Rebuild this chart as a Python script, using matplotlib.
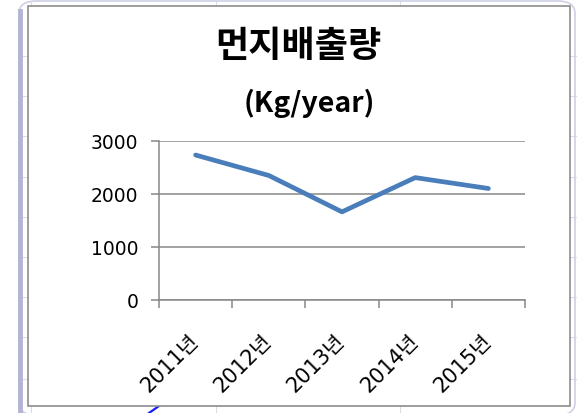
import matplotlib
matplotlib.use('Agg')
import matplotlib.pyplot as plt
from matplotlib.lines import Line2D
from matplotlib.patches import Rectangle, FancyBboxPatch

# Data
years = ['2011년', '2012년', '2013년', '2014년', '2015년']
dust = [2730, 2345, 1660, 2305, 2100]
y_ticks = [0, 1000, 2000, 3000]

title = '먼지배출량'
subtitle = '(Kg/year)'

W, H = 578, 414
plt.rcParams['font.family'] = ['DejaVu Sans', 'Noto Sans CJK KR']

fig = plt.figure(figsize=(W / 100, H / 100), dpi=100)
fig.patch.set_facecolor('white')


def px(x, y):
    return x / W, 1 - y / H


def seg(x0, y0, x1, y1, **kw):
    (a, b), (c, d) = px(x0, y0), px(x1, y1)
    fig.add_artist(Line2D([a, c], [b, d], zorder=-2, **kw))


# spreadsheet background around the chart
grid_c = '#dcdce6'
for yy in [57, 97, 137, 178, 218, 258, 298, 338, 380]:
    seg(22, yy, 28, yy, color=grid_c, lw=0.8)
    seg(570, yy, 576, yy, color=grid_c, lw=0.8)
for xx in [31, 216, 400]:
    seg(xx, 2, xx, 7, color=grid_c, lw=0.8)
    seg(xx, 407, xx, 414, color=grid_c, lw=0.8)
fig.add_artist(FancyBboxPatch(px(19, 416), (575 - 19) / W, (416 - 2) / H,
                              boxstyle='round,pad=0,rounding_size=0.03',
                              transform=fig.transFigure, fill=False,
                              edgecolor='#d0d0e6', lw=1.2, zorder=-2))
seg(19.5, 12, 19.5, 414, color='#b4b4d4', lw=3.5)
fig.add_artist(Rectangle(px(28, 407), (570 - 28) / W, (407 - 7) / H,
                         transform=fig.transFigure, facecolor='white',
                         edgecolor='#8c8c8c', lw=1.2, zorder=-1))
seg(149, 414, 159, 407, color='#1a1aff', lw=1.6)

# plot area
left, top, right, bottom = 159, 141.7, 525, 301
ax = fig.add_axes([left / W, 1 - bottom / H, (right - left) / W, (bottom - top) / H])
ax.patch.set_alpha(0)
x = list(range(len(years)))
ax.plot(x, dust, color='#4a7ebb', lw=3.4, solid_capstyle='round', solid_joinstyle='round')

ax.set_xlim(-0.5, len(years) - 0.5)
ax.set_ylim(0, 3000)
ax.set_yticks(y_ticks)
ax.set_yticklabels([str(v) for v in y_ticks], fontsize=13.5)
ax.yaxis.grid(True, color='#878787', lw=1.1)
ax.set_axisbelow(True)

ax.set_xticks([i - 0.5 for i in range(len(years) + 1)])
ax.set_xticklabels([])
ax.set_xticks(x, minor=True)
ax.set_xticklabels(years, minor=True, rotation=45, ha='right', va='center',
                   rotation_mode='anchor', fontsize=15)
ax.tick_params(axis='x', which='minor', length=0, pad=27)
ax.tick_params(axis='x', which='major', length=6, width=1.1, color='#878787')
ax.tick_params(axis='y', length=6, width=1.1, color='#878787', pad=9)

for s in ['top', 'right']:
    ax.spines[s].set_visible(False)
for s in ['left', 'bottom']:
    ax.spines[s].set_color('#878787')
    ax.spines[s].set_linewidth(1.1)

fig.text(*px(298, 47), title, ha='center', va='center', fontsize=26,
         fontweight='bold', family=['Noto Sans CJK KR'])
fig.text(*px(309, 103), subtitle, ha='center', va='center', fontsize=20.5,
         fontweight='bold', family=['Noto Sans CJK KR'])

fig.savefig('out.png', dpi=100)
